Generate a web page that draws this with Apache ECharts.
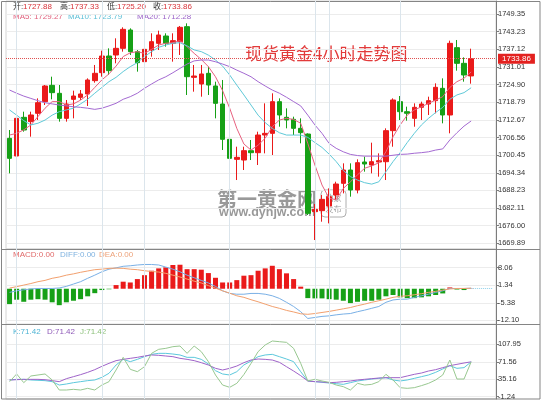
<!DOCTYPE html>
<html>
<head>
<meta charset="utf-8">
<script src="https://cdn.jsdelivr.net/npm/echarts@6.0.0/dist/echarts.min.js"></script>
<style>
  html, body { margin: 0; padding: 0; background: #fff; }
  #chart { width: 550px; height: 401px; }
</style>
</head>
<body>
<div id="chart"></div>
<script>
// 4小时K线 (open / close / low / high)
var opens = [1706.26, 1700.14, 1713.54, 1712.04, 1714.93, 1718.97, 1724.63, 1721.86, 1713.19, 1719.78, 1720.47, 1721.63, 1726.25, 1729.02, 1734.79, 1735.14, 1737.45, 1743.80, 1736.30, 1732.83, 1736.87, 1739.18, 1741.72, 1739.18, 1739.76, 1744.96,
  1727.40, 1725.09, 1728.79, 1724.40, 1718.16, 1705.92, 1698.98, 1698.75, 1701.99, 1701.29, 1707.42, 1707.99, 1718.97, 1713.54, 1712.85, 1709.73, 1707.76, 1680.85, 1681.20, 1682.81,
  1686.62, 1690.67, 1695.29, 1688.36, 1698.06, 1697.02, 1698.06, 1698.17, 1708.92, 1718.97, 1715.50, 1713.19, 1717.01, 1718.16, 1719.32, 1723.59, 1714.35, 1737.68, 1732.25, 1727.88];
var closes = [1699.33, 1713.19, 1709.15, 1714.35, 1718.62, 1724.40, 1722.09, 1713.19, 1718.16, 1720.93, 1721.63, 1726.48, 1728.79, 1734.79, 1729.71, 1737.45, 1744.03, 1736.30, 1732.48, 1737.10, 1739.76, 1742.07, 1739.18, 1740.11, 1744.73, 1727.63,
  1727.86, 1728.56, 1724.74, 1718.39, 1705.92, 1699.33, 1699.68, 1701.99, 1701.29, 1707.42, 1707.99, 1718.97, 1714.35, 1712.62, 1709.73, 1708.23, 1680.27, 1681.66, 1685.12, 1686.05,
  1690.44, 1695.29, 1688.36, 1697.83, 1697.37, 1698.17, 1698.52, 1708.92, 1719.55, 1715.50, 1714.93, 1717.01, 1718.16, 1719.32, 1723.94, 1714.35, 1739.18, 1732.25, 1728.21, 1733.86];
var lows = [1694.13, 1697.02, 1708.57, 1706.84, 1712.62, 1717.81, 1719.78, 1712.04, 1712.04, 1713.19, 1719.55, 1717.47, 1725.55, 1727.63, 1728.21, 1732.25, 1736.30, 1735.14, 1729.37, 1727.05, 1734.56, 1736.87, 1738.03, 1732.83, 1735.14, 1721.28,
  1722.43, 1720.70, 1721.28, 1713.19, 1702.22, 1690.09, 1691.82, 1695.29, 1698.75, 1697.02, 1701.06, 1700.49, 1710.30, 1709.73, 1707.42, 1704.53, 1679.70, 1671.03, 1677.38, 1676.80,
  1684.89, 1687.20, 1686.05, 1687.20, 1694.71, 1694.13, 1692.98, 1691.82, 1703.37, 1712.62, 1712.38, 1710.30, 1712.62, 1714.35, 1714.93, 1711.46, 1708.00, 1729.71, 1725.90, 1725.20];
var highs = [1709.15, 1713.77, 1715.50, 1715.50, 1720.12, 1724.74, 1727.63, 1724.74, 1719.55, 1722.78, 1723.01, 1727.05, 1731.68, 1736.64, 1737.45, 1740.92, 1744.73, 1744.38, 1736.87, 1741.72, 1742.65, 1743.57, 1742.65, 1742.65, 1745.19, 1746.11,
  1731.68, 1731.68, 1731.10, 1725.90, 1726.48, 1706.84, 1703.37, 1703.37, 1705.69, 1708.57, 1718.39, 1721.86, 1720.12, 1716.66, 1713.77, 1713.19, 1707.99, 1683.50, 1686.62, 1688.93,
  1691.24, 1697.60, 1697.60, 1698.98, 1699.91, 1704.76, 1701.06, 1709.73, 1720.12, 1720.93, 1717.24, 1718.39, 1718.97, 1720.70, 1725.32, 1727.05, 1740.11, 1740.34, 1734.33, 1737.33];

// 均线
var ma5 = [1707.4, 1708.0, 1709.2, 1710.9, 1713.8, 1716.7, 1719.0, 1719.0, 1717.8, 1718.2, 1719.5, 1721.3, 1723.9, 1726.5, 1728.6, 1731.3, 1734.6, 1735.9, 1736.3, 1735.7, 1737.1, 1738.6, 1739.2, 1739.4, 1740.1, 1738.0,
  1735.7, 1733.6, 1731.1, 1727.6, 1722.8, 1716.7, 1709.7, 1704.3, 1702.2, 1703.9, 1706.3, 1710.3, 1712.6, 1713.2, 1712.8, 1711.5, 1704.5, 1697.0, 1690.1, 1685.5,
  1685.0, 1688.9, 1691.2, 1693.6, 1695.9, 1696.7, 1697.8, 1701.6, 1706.8, 1710.9, 1714.3, 1716.1, 1717.2, 1718.4, 1719.5, 1720.7, 1723.9, 1725.9, 1727.1, 1729.27];
var ma10 = [1716.1, 1714.3, 1712.4, 1710.9, 1711.5, 1712.6, 1714.3, 1715.5, 1716.1, 1716.7, 1718.2, 1719.8, 1721.9, 1723.9, 1725.9, 1727.4, 1729.4, 1731.1, 1732.5, 1734.6, 1736.3, 1737.8, 1738.6, 1739.2, 1739.4, 1738.3,
  1736.9, 1736.3, 1735.1, 1733.4, 1731.3, 1728.2, 1724.7, 1721.3, 1717.8, 1714.3, 1711.7, 1709.7, 1708.2, 1707.4, 1707.4, 1707.4, 1706.6, 1704.8, 1703.1, 1700.8,
  1698.2, 1695.1, 1693.0, 1691.8, 1690.9, 1690.4, 1691.2, 1694.7, 1698.2, 1701.3, 1704.8, 1708.0, 1710.9, 1713.2, 1715.2, 1717.0, 1719.8, 1721.3, 1722.1, 1723.79];
var ma20 = [1723.0, 1721.9, 1720.9, 1720.1, 1719.3, 1718.6, 1718.2, 1717.8, 1717.5, 1717.2, 1717.0, 1716.7, 1716.3, 1716.7, 1717.5, 1718.4, 1719.8, 1720.7, 1721.9, 1723.6, 1725.1, 1726.5, 1727.6, 1729.0, 1730.5, 1732.0,
  1733.1, 1733.4, 1733.4, 1732.8, 1732.0, 1731.1, 1729.9, 1728.8, 1727.6, 1725.9, 1724.4, 1723.0, 1721.9, 1720.5, 1719.0, 1717.5, 1714.3, 1710.9, 1708.0, 1704.5,
  1702.8, 1701.6, 1700.7, 1700.3, 1700.1, 1700.1, 1700.1, 1700.1, 1700.4, 1700.7, 1700.8, 1701.1, 1701.3, 1701.6, 1702.2, 1702.6, 1705.7, 1708.2, 1710.5, 1712.28];

// MACD
var macd = [-5.9, -4.2, -5.0, -4.2, -4.0, -4.2, -5.2, -6.3, -5.2, -4.6, -4.0, -2.9, -1.7, -0.5, -0.2, 1.4, 2.7, 2.4, 3.7, 5.2, 6.9, 7.8, 8.2, 9.1, 9.2, 7.5,
  7.5, 7.3, 6.0, 4.2, 2.4, 2.4, 3.3, 5.0, 5.2, 6.9, 7.8, 8.8, 7.5, 5.9, 3.7, 0.8, -3.6, -3.7, -3.7, -4.0,
  -4.2, -4.6, -5.5, -5.0, -4.6, -4.6, -4.2, -2.9, -2.4, -3.3, -3.6, -3.6, -3.3, -2.9, -2.4, -1.8, 0.5, -0.3, -0.5, 0.1];
var diff = [-1.4, -0.8, -0.4, -0.1, 0.1, 0.1, 0.1, 0.3, 0.9, 1.8, 2.7, 4.0, 5.2, 6.5, 7.5, 8.0, 8.6, 8.8, 9.1, 9.3, 9.3, 9.1, 8.3, 7.5, 6.5, 5.2,
  4.2, 3.2, 2.2, 0.9, -0.8, -1.8, -2.1, -2.1, -1.8, -1.8, -2.1, -2.7, -3.7, -5.2, -6.8, -8.8, -11.4, -11.0, -10.6, -10.4,
  -10.0, -9.7, -9.5, -8.8, -8.2, -7.5, -6.8, -5.2, -4.3, -4.0, -4.0, -3.3, -2.7, -2.1, -1.4, -0.8, 0.1, 0.1, 0.1, 0.2];
var dea = [0.25, 0.8, 1.4, 2.0, 2.7, 3.2, 4.0, 4.5, 5.2, 5.7, 6.3, 6.8, 7.3, 7.5, 7.8, 7.9, 7.8, 7.5, 7.3, 6.9, 6.6, 6.4, 5.9, 5.2, 4.5, 3.7,
  2.9, 2.2, 1.2, 0.25, -0.8, -1.7, -2.7, -3.3, -4.2, -5.0, -5.9, -6.8, -7.5, -8.3, -8.9, -9.6, -9.8, -9.5, -9.1, -8.7,
  -8.2, -7.7, -7.2, -6.5, -5.9, -5.2, -4.6, -4.0, -3.3, -2.9, -2.7, -2.3, -1.9, -1.4, -1.0, -0.5, -0.1, 0.1, 0.1, 0.2];

// KDJ
var kLine = [33.6, 34.9, 34.9, 33.6, 32.9, 32.2, 30.1, 23.1, 25.2, 28.0, 30.1, 32.2, 33.6, 39.1, 47.5, 64.8, 76.6, 71.8, 76.6, 82.2, 87.0, 89.1, 89.1, 87.7, 85.7, 80.8,
  80.8, 76.6, 66.9, 53.0, 46.1, 44.0, 50.9, 65.0, 73.0, 82.2, 85.7, 87.0, 82.2, 77.3, 71.8, 50.9, 31.5, 30.1, 28.7, 27.3,
  25.9, 24.5, 28.0, 31.5, 33.6, 35.6, 37.0, 38.4, 33.6, 31.5, 33.6, 37.0, 40.5, 44.0, 49.5, 56.5, 63.4, 57.9, 59.3, 71.42];
var dLine = [33.6, 34.2, 34.9, 34.9, 34.9, 34.2, 32.2, 30.1, 36.3, 40.5, 44.7, 49.5, 55.1, 62.0, 68.3, 73.9, 76.6, 78.7, 80.8, 83.6, 85.7, 85.0, 83.6, 82.2, 78.7, 76.6,
  73.9, 69.7, 64.8, 57.9, 54.4, 57.9, 62.7, 69.7, 75.2, 77.3, 76.6, 75.2, 70.4, 61.3, 52.3, 42.6, 31.5, 30.1, 29.4, 28.0,
  28.7, 30.1, 31.5, 33.6, 35.0, 36.3, 37.7, 38.4, 38.4, 38.4, 41.9, 45.4, 48.1, 52.3, 55.1, 59.3, 63.4, 66.2, 69.0, 71.42];
var jLine = [30.1, 46.1, 28.0, 41.9, 44.0, 46.1, 33.6, 12.7, 12.7, 14.1, 12.7, 16.2, 12.7, 23.1, 30.1, 54.4, 80.8, 55.8, 50.9, 61.3, 89.1, 97.5, 99.5, 103.0, 104.4, 89.1,
  104.4, 92.6, 71.8, 44.0, 23.1, 18.3, 26.6, 45.0, 68.0, 92.6, 106.5, 114.8, 113.4, 112.0, 99.5, 68.3, 31.5, 35.0, 31.5, 28.7,
  23.1, 19.7, 12.7, 26.6, 23.1, 24.5, 30.1, 45.4, 33.6, 17.6, 16.2, 17.6, 21.8, 26.6, 33.6, 44.0, 75.2, 35.6, 35.6, 71.42];

// 刻度
var mainTicks = [1669.89, 1676.00, 1682.11, 1688.23, 1694.34, 1700.45, 1706.56, 1712.67, 1718.79, 1724.90, 1731.01, 1737.12, 1743.23, 1749.35];
var macdTicks = [-12.10, -5.38, 1.34, 8.06];
var kdjTicks = [-1.24, 35.16, 71.56, 107.95];
var dayBreaks = ['1', '13', '19', '31', '43', '45', '55'];

var SLOTS = 69;
var categories = [];
for (var i = 0; i < SLOTS; i++) categories.push(String(i));

var UP = '#ea1a1a', DOWN = '#16a016';
var last = closes.length - 1;

var kData = opens.map(function (o, i) { return [o, closes[i], lows[i], highs[i]]; });

var vLines = dayBreaks.map(function (c) { return { xAxis: c }; });
var vLineStyle = { color: '#dbe5ec', width: 1, type: 'solid' };

var chart = echarts.init(document.getElementById('chart'));

function makeX(idx) {
  return {
    type: 'category', gridIndex: idx, data: categories, boundaryGap: true,
    axisLine: { show: false }, axisTick: { show: false }, axisLabel: { show: false },
    splitLine: { show: false }
  };
}
function makeY(idx, min, max, ticks) {
  return {
    type: 'value', gridIndex: idx, position: 'right', min: min, max: max,
    axisLine: { show: true, lineStyle: { color: '#7c7c7c', width: 1 } },
    axisTick: { show: true, length: 3, customValues: ticks, lineStyle: { color: '#7c7c7c' } },
    axisLabel: {
      customValues: ticks, margin: 2, fontSize: 7.5, color: '#333',
      fontFamily: 'Liberation Sans',
      formatter: function (v) { return v.toFixed(2); }
    },
    splitLine: { show: true, lineStyle: { color: '#ececec', width: 1 } }
  };
}
function txt(x, y, s, color, size) {
  return {
    type: 'text', x: x, y: y, silent: true,
    style: { text: s, fill: color, fontSize: size || 8, fontFamily: 'Liberation Sans, Noto Sans CJK SC', verticalAlign: 'middle' }
  };
}

var graphics = [
  // 水印
  { type: 'text', x: 217, y: 199, z: -1, silent: true,
    style: { text: '第一黄金网', fontSize: 20, fontWeight: 'bold', fontFamily: 'Noto Sans CJK SC', fill: 'rgba(110,110,110,0.7)', verticalAlign: 'middle' } },
  { type: 'text', x: 219, y: 213, z: -1, silent: true,
    style: { text: 'www.dyhjw.com', fontSize: 12.5, fontWeight: 'bold', fontFamily: 'Liberation Sans', fill: 'rgba(110,110,110,0.7)', verticalAlign: 'middle' } },
  { type: 'rect', z: -1, silent: true, shape: { x: 321, y: 190, width: 25, height: 27, r: 4 },
    style: { fill: 'rgba(255,255,255,0.2)', stroke: 'rgba(120,120,120,0.6)', lineWidth: 1 } },
  { type: 'text', x: 333.5, y: 198, z: -1, silent: true,
    style: { text: '独家', fontSize: 8, fontFamily: 'Noto Sans CJK SC', fill: 'rgba(110,110,110,0.7)', align: 'center', verticalAlign: 'middle' } },
  { type: 'text', x: 333.5, y: 209, z: -1, silent: true,
    style: { text: '发布', fontSize: 8, fontFamily: 'Noto Sans CJK SC', fill: 'rgba(110,110,110,0.7)', align: 'center', verticalAlign: 'middle' } },
  // 标题
  { type: 'text', x: 245, y: 54, silent: true,
    style: { text: '现货黄金4小时走势图', fontSize: 17, fontFamily: 'Noto Sans CJK SC', fill: '#e23b3b', verticalAlign: 'middle' } },
  // 外框 与 分隔线
  { type: 'rect', silent: true, shape: { x: 1.5, y: 1.5, width: 538.5, height: 397.5 },
    style: { fill: 'none', stroke: '#858585', lineWidth: 1 } },
  { type: 'line', silent: true, shape: { x1: 1.5, y1: 249.5, x2: 540, y2: 249.5 }, style: { stroke: '#858585', lineWidth: 1 } },
  { type: 'line', silent: true, shape: { x1: 1.5, y1: 324.5, x2: 540, y2: 324.5 }, style: { stroke: '#858585', lineWidth: 1 } },
  // 主图图例
  txt(13, 6.5, '开:', '#333'), txt(23, 6.5, opens[last].toFixed(2), '#d8343a'),
  txt(60, 6.5, '高:', '#333'), txt(70, 6.5, highs[last].toFixed(2), '#d8343a'),
  txt(107, 6.5, '低:', '#333'), txt(117, 6.5, lows[last].toFixed(2), '#d8343a'),
  txt(153, 6.5, '收:', '#333'), txt(163, 6.5, closes[last].toFixed(2), '#d8343a'),
  txt(13, 17, 'MA5: ' + ma5[last].toFixed(2), '#e0607c'),
  txt(68, 17, 'MA10: ' + ma10[last].toFixed(2), '#5bbfd6'),
  txt(137, 17, 'MA20: ' + ma20[last].toFixed(2), '#9a62c8'),
  // 副图图例
  txt(13, 255, 'MACD:0.00', '#e06a6a'),
  txt(60, 255, 'DIFF:0.00', '#7fb2e0'),
  txt(99, 255, 'DEA:0.00', '#eda27a'),
  txt(13, 332, 'K:' + kLine[last].toFixed(2), '#4fb4d4'),
  txt(47, 332, 'D:' + dLine[last].toFixed(2), '#8f5ab8'),
  txt(80, 332, 'J:' + jLine[last].toFixed(2), '#8cc07a')
];

var option = {
  animation: false,
  backgroundColor: '#fff',
  grid: [
    { left: 6, right: 54, top: 1, height: 248, show: true, borderColor: '#d4d4d4', borderWidth: 1 },
    { left: 6, right: 54, top: 249, height: 75.3, show: true, borderColor: '#d4d4d4', borderWidth: 1 },
    { left: 6, right: 54, top: 324.3, height: 74.7, show: true, borderColor: '#d4d4d4', borderWidth: 1 }
  ],
  xAxis: [makeX(0), makeX(1), makeX(2)],
  yAxis: [
    makeY(0, 1667.92, 1753.85, mainTicks),
    makeY(1, -13.63, 15.23, macdTicks),
    makeY(2, -6.03, 149.63, kdjTicks)
  ],
  graphic: graphics,
  series: [
    {
      name: 'K', type: 'candlestick', xAxisIndex: 0, yAxisIndex: 0, data: kData, barWidth: 5, z: 3,
      itemStyle: { color: UP, color0: DOWN, borderColor: UP, borderColor0: DOWN, borderWidth: 1 },
      markLine: {
        silent: true, symbol: 'none', label: { show: false },
        lineStyle: vLineStyle,
        data: vLines.concat([{
          yAxis: closes[last],
          lineStyle: { color: '#e05050', type: 'dotted', width: 1 },
          label: {
            show: true, position: 'end', distance: 2, formatter: closes[last].toFixed(2),
            backgroundColor: '#e3211f', color: '#fff', fontSize: 8, padding: [1, 4],
            fontFamily: 'Liberation Sans'
          }
        }])
      }
    },
    { name: 'MA5', type: 'line', xAxisIndex: 0, yAxisIndex: 0, data: ma5, showSymbol: false, z: 4,
      lineStyle: { color: '#e8617f', width: 1 } },
    { name: 'MA10', type: 'line', xAxisIndex: 0, yAxisIndex: 0, data: ma10, showSymbol: false, z: 4,
      lineStyle: { color: '#5fc9d8', width: 1 } },
    { name: 'MA20', type: 'line', xAxisIndex: 0, yAxisIndex: 0, data: ma20, showSymbol: false, z: 4,
      lineStyle: { color: '#a46ad2', width: 1 } },
    {
      name: 'MACD', type: 'bar', xAxisIndex: 1, yAxisIndex: 1, data: macd, barWidth: 5,
      itemStyle: { color: function (p) { return p.value >= 0 ? UP : DOWN; } },
      markLine: { silent: true, symbol: 'none', label: { show: false }, lineStyle: vLineStyle, data: vLines }
    },
    {
      name: 'DIFF', type: 'line', xAxisIndex: 1, yAxisIndex: 1, data: diff, showSymbol: false,
      lineStyle: { color: '#79b0e6', width: 1 },
      markLine: {
        silent: true, symbol: 'none', label: { show: false },
        lineStyle: { color: '#8fd0ea', type: 'dotted', width: 1 },
        data: [[{ coord: [categories[last], diff[last]] }, { coord: [categories[SLOTS - 1], diff[last]] }]]
      }
    },
    { name: 'DEA', type: 'line', xAxisIndex: 1, yAxisIndex: 1, data: dea, showSymbol: false,
      lineStyle: { color: '#f2a06e', width: 1 } },
    {
      name: 'KDJ-K', type: 'line', xAxisIndex: 2, yAxisIndex: 2, data: kLine, showSymbol: false,
      lineStyle: { color: '#5cc8dc', width: 1 },
      markLine: { silent: true, symbol: 'none', label: { show: false }, lineStyle: vLineStyle, data: vLines }
    },
    { name: 'KDJ-D', type: 'line', xAxisIndex: 2, yAxisIndex: 2, data: dLine, showSymbol: false,
      lineStyle: { color: '#9f63c9', width: 1 } },
    { name: 'KDJ-J', type: 'line', xAxisIndex: 2, yAxisIndex: 2, data: jLine, showSymbol: false,
      lineStyle: { color: '#98c890', width: 1 } }
  ]
};

chart.setOption(option);
</script>
</body>
</html>
